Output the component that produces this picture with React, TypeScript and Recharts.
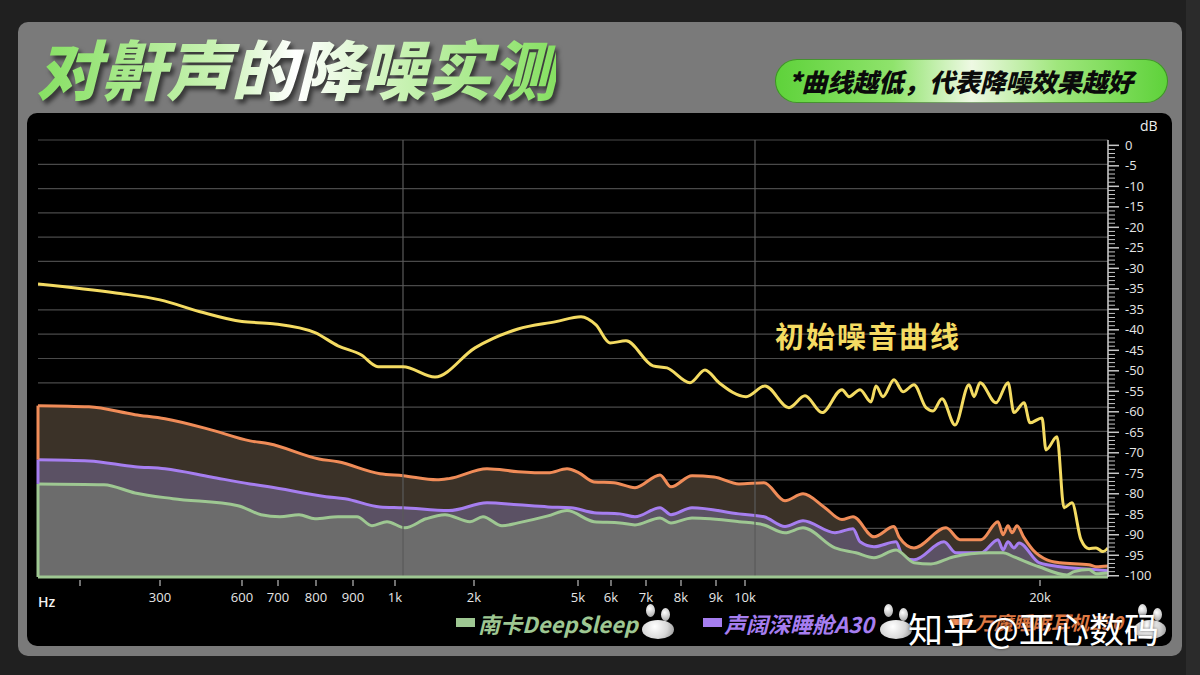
import { ComposedChart, Area, Line, XAxis, YAxis, CartesianGrid, ReferenceLine } from 'recharts';

// x = position along the (non-linear) frequency axis, y = dB as printed on the right ruler
const X_TICKS = [42, 122, 204, 240, 278, 315, 357, 436, 540, 573, 608, 643, 678, 707, 1002];
const X_LABELS = ['', '300', '600', '700', '800', '900', '1k', '2k', '5k', '6k', '7k', '8k', '9k', '10k', '20k'];
const V_GRID = [365, 717];

const Y_TICKS = [5, 0, -5, -10, -15, -20, -25, -30, -35, -40, -45, -50, -55, -60, -65, -70, -75, -80, -85, -90, -95, -100];
const Y_LABELS = ['0', '-5', '-10', '-15', '-20', '-25', '-30', '-35', '-35', '-40', '-45', '-50', '-55', '-60', '-65', '-70', '-75', '-80', '-85', '-90', '-95', '-100'];

const INITIAL = [
    [0, -28.8], [78, -31.0], [122, -32.7], [162, -35.6], [204, -38.0], [235, -38.5], [277, -40.7], [300, -43.9],
    [323, -46.1], [340, -49.0], [365, -49.0], [397, -51.5], [437, -44.4], [480, -39.8], [518, -38.0], [543, -36.8],
    [558, -38.8], [572, -43.2], [588, -42.7], [615, -48.8], [629, -49.3], [652, -52.9], [667, -49.8], [681, -52.9],
    [708, -56.3], [727, -53.7], [751, -59.0], [767, -56.1], [784, -60.2], [804, -54.6], [811, -56.3], [822, -54.6],
    [833, -57.6], [838, -53.7], [845, -56.3], [856, -52.2], [865, -55.1], [876, -53.4], [888, -59.0], [895, -59.8],
    [904, -56.8], [917, -63.2], [931, -53.4], [936, -56.3], [942, -52.9], [958, -57.8], [970, -52.9], [976, -60.2],
    [986, -57.8], [992, -62.7], [1004, -61.5], [1008, -69.3], [1019, -66.1], [1026, -83.4], [1034, -82.2],
    [1043, -91.2], [1051, -93.4], [1058, -93.2], [1065, -94.1], [1070, -93.2],
];

const WANMO = [
    [0, -58.5], [51, -58.8], [97, -60.7], [127, -61.7], [173, -64.4], [212, -67.1], [231, -67.8], [281, -71.5],
    [300, -72.2], [342, -75.1], [365, -75.6], [399, -76.6], [411, -76.3], [449, -73.9], [480, -74.6], [510, -74.9],
    [529, -73.9], [541, -74.9], [556, -77.1], [576, -77.3], [597, -78.5], [622, -75.4], [633, -78.3], [654, -75.6],
    [676, -75.9], [701, -77.6], [726, -77.3], [747, -81.7], [765, -80.0], [786, -83.2], [804, -86.3], [815, -85.6],
    [836, -90.5], [856, -88.0], [861, -90.5], [876, -93.2], [908, -88.3], [922, -91.2], [943, -91.2], [960, -86.8],
    [965, -90.0], [970, -87.8], [974, -89.5], [979, -87.8], [986, -90.7], [995, -93.7], [1009, -96.1],
    [1022, -96.8], [1051, -97.3], [1058, -97.8], [1070, -97.6],
];

const SOUNDCORE = [
    [0, -71.7], [51, -72.0], [97, -73.4], [127, -73.9], [173, -75.9], [212, -77.6], [231, -78.3], [288, -80.7],
    [307, -81.2], [342, -83.2], [365, -83.4], [411, -84.1], [449, -82.2], [480, -82.7], [510, -83.2], [533, -83.4],
    [556, -84.6], [582, -84.9], [597, -85.6], [622, -83.4], [633, -85.1], [654, -83.4], [701, -84.9], [726, -85.6],
    [747, -88.0], [765, -86.6], [797, -89.5], [815, -88.5], [822, -91.7], [836, -92.9], [858, -91.7], [865, -95.4],
    [876, -96.1], [906, -91.7], [918, -94.4], [943, -94.4], [960, -91.2], [965, -93.7], [970, -91.7], [976, -93.2],
    [981, -92.0], [1001, -96.8], [1022, -97.8], [1058, -98.5], [1070, -98.8],
];

const NANK = [
    [0, -77.6], [66, -77.8], [97, -79.8], [135, -81.2], [200, -82.9], [223, -85.1], [242, -85.6], [261, -85.1],
    [277, -86.1], [300, -85.6], [319, -85.6], [334, -87.8], [349, -86.8], [367, -88.3], [388, -86.1], [407, -85.1],
    [432, -86.8], [445, -85.6], [464, -87.8], [480, -87.1], [510, -85.4], [529, -84.1], [556, -86.8], [582, -87.1],
    [597, -87.6], [622, -85.9], [633, -87.1], [654, -85.9], [701, -86.8], [726, -87.6], [747, -89.5], [765, -88.3],
    [797, -93.2], [818, -94.4], [836, -95.6], [858, -93.7], [876, -96.8], [893, -97.1], [915, -95.4], [951, -94.4],
    [965, -94.4], [976, -95.4], [1001, -97.8], [1029, -99.8], [1036, -99.0], [1051, -98.5], [1058, -99.5],
    [1070, -99.3],
];

const toRows = (pts: number[][]) => pts.map(([x, db]) => ({ x, db }));

const Y_MIN = -100.3;
const Y_MAX = 6.3;
const RULER = Array.from({ length: 106 }, (_, i) => 5 - i);

const COLORS = {
    initial: '#f4db62',
    wanmo: '#f08c58',
    wanmoFill: '#3b3228',
    soundcore: '#a67ef0',
    soundcoreFill: '#5b5164',
    nank: '#9ec792',
    nankFill: '#6c6c6c',
};

const CJK = '"Noto Sans CJK SC", "Noto Sans", sans-serif';

const RulerTick = (props: any) => {
    const { x, y, payload } = props;
    const idx = Y_TICKS.indexOf(payload.value);
    const major = idx >= 0;
    return (
        <g>
            <line x1={x} x2={x + (major ? 11 : 7)} y1={y} y2={y} stroke="#c8c8c8" strokeWidth={major ? 1.5 : 1} />
            {major && (
                <text x={x + 17} y={y} dy={4.5} fill="#e6e6e6" fontSize={13} fontFamily="Open Sans, sans-serif">
                    {Y_LABELS[idx]}
                </text>
            )}
        </g>
    );
};

const FreqTick = (props: any) => {
    const { x, y, payload } = props;
    const idx = X_TICKS.indexOf(payload.value);
    return (
        <g>
            <line x1={x} x2={x} y1={y + 3} y2={y + 9} stroke="#bdbdbd" strokeWidth={1.2} />
            <text x={x} y={y + 25} textAnchor="middle" fill="#e6e6e6" fontSize={13} fontFamily="Open Sans, sans-serif">
                {X_LABELS[idx]}
            </text>
        </g>
    );
};

const Bud = ({ left, top }: { left: number; top: number }) => (
    <div style={{ position: 'absolute', left, top, width: 34, height: 36 }}>
        <div style={{
            position: 'absolute', left: 4, top: 0, width: 9, height: 13, borderRadius: '50%',
            background: 'radial-gradient(circle at 40% 35%, #ffffff, #9a9a9a)',
        }} />
        <div style={{
            position: 'absolute', left: 19, top: 4, width: 9, height: 13, borderRadius: '50%',
            background: 'radial-gradient(circle at 40% 35%, #ffffff, #9a9a9a)',
        }} />
        <div style={{
            position: 'absolute', left: 0, top: 16, width: 32, height: 19, borderRadius: '50%',
            background: 'radial-gradient(circle at 40% 35%, #ffffff, #d8d8d8 55%, #8a8a8a)',
        }} />
    </div>
);

const legendText = (color: string): React.CSSProperties => ({
    position: 'absolute',
    top: 611,
    fontFamily: CJK,
    fontWeight: 700,
    fontStyle: 'italic',
    fontSize: 22,
    lineHeight: '24px',
    color,
    whiteSpace: 'nowrap',
});

export default function App() {
    return (
        <div style={{ position: 'relative', width: 1200, height: 675, background: '#202020', overflow: 'hidden' }}>
            <style>{'body{margin:0}'}</style>
            <div style={{ position: 'absolute', left: 1186, top: 0, width: 14, height: 675, background: '#2b2b2b' }} />
            <div style={{
                position: 'absolute', left: 18, top: 22, width: 1164, height: 634,
                background: '#7a7a7a', borderRadius: 10,
            }} />
            <div style={{
                position: 'absolute', left: 27, top: 113, width: 1145, height: 533,
                background: '#000', borderRadius: 10,
            }} />

            <div style={{
                position: 'absolute', left: 36, top: 20, fontFamily: CJK, fontWeight: 900, fontSize: 65,
                fontStyle: 'italic', letterSpacing: 0, whiteSpace: 'nowrap',
                background: 'linear-gradient(90deg, #86e062 0%, #c9f2b4 35%, #ffffff 50%, #c9f2b4 70%, #86e062 100%)',
                WebkitBackgroundClip: 'text', backgroundClip: 'text', color: 'transparent',
                filter: 'drop-shadow(3px 4px 2px rgba(0,0,0,0.55))',
            }}>
                对鼾声的降噪实测
            </div>

            <div style={{
                position: 'absolute', left: 775, top: 59, width: 393, height: 44, borderRadius: 22,
                background: 'linear-gradient(90deg, #5ed23a 0%, #8fe36c 30%, #eef9e3 50%, #9fe67c 72%, #5ed23a 100%)',
                boxShadow: 'inset 0 0 0 1px rgba(30,80,20,0.5)',
            }}>
                <div style={{
                    position: 'absolute', left: 13, top: 3, fontFamily: CJK, fontWeight: 900, fontSize: 25.5,
                    fontStyle: 'italic', color: '#0b0b0b', whiteSpace: 'nowrap',
                }}>
                    *曲线越低，代表降噪效果越好
                </div>
            </div>

            <div style={{ position: 'absolute', left: 0, top: 0 }}>
                <ComposedChart width={1200} height={675} margin={{ top: 140, right: 32, bottom: 68, left: 38 }}>
                    <CartesianGrid
                        vertical={false}
                        stroke="#4a4a4a"
                        strokeWidth={1.2}
                        horizontalCoordinatesGenerator={({ offset }: any) =>
                            Array.from({ length: 18 }, (_, i) => offset.top + (i * offset.height) / 18)
                        }
                    />
                    <XAxis
                        type="number"
                        dataKey="x"
                        domain={[0, 1070]}
                        ticks={X_TICKS}
                        interval={0}
                        height={30}
                        tickSize={0}
                        tickMargin={0}
                        tick={<FreqTick />}
                        axisLine={{ stroke: COLORS.nank, strokeWidth: 3 }}
                        allowDataOverflow
                    />
                    <YAxis
                        orientation="right"
                        type="number"
                        dataKey="db"
                        domain={[Y_MIN, Y_MAX]}
                        ticks={RULER}
                        interval={0}
                        width={60}
                        tickSize={0}
                        tickMargin={0}
                        tick={<RulerTick />}
                        axisLine={{ stroke: '#d0d0d0', strokeWidth: 1.5 }}
                        allowDataOverflow
                    />
                    {V_GRID.map((v) => (
                        <ReferenceLine key={v} x={v} stroke="#5a5a5a" strokeWidth={1.2} />
                    ))}
                    <Area
                        data={toRows(WANMO)}
                        dataKey="db"
                        type="monotone"
                        baseValue="dataMin"
                        stroke={COLORS.wanmo}
                        strokeWidth={3}
                        fill={COLORS.wanmoFill}
                        fillOpacity={1}
                        isAnimationActive={false}
                    />
                    <Area
                        data={toRows(SOUNDCORE)}
                        dataKey="db"
                        type="monotone"
                        baseValue="dataMin"
                        stroke={COLORS.soundcore}
                        strokeWidth={3}
                        fill={COLORS.soundcoreFill}
                        fillOpacity={1}
                        isAnimationActive={false}
                    />
                    <Area
                        data={toRows(NANK)}
                        dataKey="db"
                        type="monotone"
                        baseValue="dataMin"
                        stroke={COLORS.nank}
                        strokeWidth={3}
                        fill={COLORS.nankFill}
                        fillOpacity={1}
                        isAnimationActive={false}
                    />
                    <ReferenceLine
                        segment={[{ x: 0, y: WANMO[0][1] }, { x: 0, y: SOUNDCORE[0][1] }]}
                        stroke={COLORS.wanmo}
                        strokeWidth={3}
                    />
                    <ReferenceLine
                        segment={[{ x: 0, y: SOUNDCORE[0][1] }, { x: 0, y: NANK[0][1] }]}
                        stroke={COLORS.soundcore}
                        strokeWidth={3}
                    />
                    <ReferenceLine
                        segment={[{ x: 0, y: NANK[0][1] }, { x: 0, y: Y_MIN }]}
                        stroke={COLORS.nank}
                        strokeWidth={3}
                    />
                    <Line
                        data={toRows(INITIAL)}
                        dataKey="db"
                        type="monotone"
                        stroke={COLORS.initial}
                        strokeWidth={3}
                        dot={false}
                        isAnimationActive={false}
                    />
                </ComposedChart>
            </div>

            <div style={{ position: 'absolute', left: 1140, top: 116, color: '#eee', fontSize: 14, fontFamily: 'Open Sans, sans-serif' }}>dB</div>
            <div style={{ position: 'absolute', left: 38, top: 592, color: '#f2f2f2', fontSize: 14, fontWeight: 600, fontFamily: 'Open Sans, sans-serif' }}>Hz</div>

            <div style={{
                position: 'absolute', left: 775, top: 314, fontFamily: CJK, fontWeight: 700, fontSize: 29,
                letterSpacing: 2, color: COLORS.initial, whiteSpace: 'nowrap',
            }}>
                初始噪音曲线
            </div>

            <div style={{ position: 'absolute', left: 456, top: 618, width: 19, height: 9, background: COLORS.nank }} />
            <div style={{ ...legendText(COLORS.nank), left: 478 }}>南卡DeepSleep</div>
            <Bud left={642} top={604} />

            <div style={{ position: 'absolute', left: 703, top: 618, width: 19, height: 9, background: COLORS.soundcore }} />
            <div style={{ ...legendText(COLORS.soundcore), left: 724 }}>声阔深睡舱A30</div>
            <Bud left={880} top={604} />

            <div style={{ position: 'absolute', left: 950, top: 619, width: 22, height: 6, background: COLORS.wanmo }} />
            <div style={{ ...legendText('#e07a44'), left: 975, fontSize: 19, lineHeight: '20px', top: 612 }}>万魔睡眠耳机Z30</div>
            <Bud left={1134} top={604} />

            <div style={{
                position: 'absolute', left: 908, top: 610, fontFamily: CJK, fontWeight: 400, fontSize: 35,
                lineHeight: '36px', color: '#ffffff', whiteSpace: 'nowrap', textShadow: '0 0 3px rgba(0,0,0,0.6)',
            }}>
                知乎 @亚心数码
            </div>
        </div>
    );
}
